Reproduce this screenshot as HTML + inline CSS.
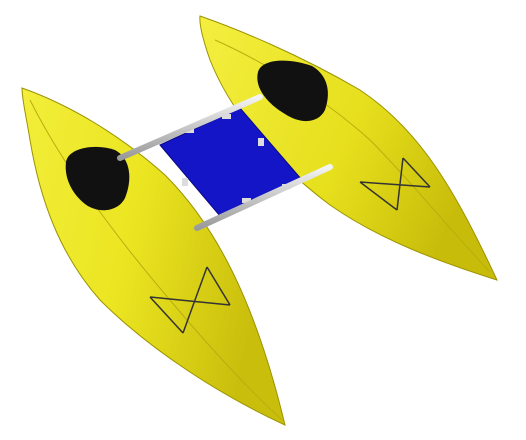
<!DOCTYPE html>
<html><head><meta charset="utf-8"><style>
html,body{margin:0;padding:0;background:#fff;width:526px;height:440px;overflow:hidden}
</style></head><body>
<svg width="526" height="440" viewBox="0 0 526 440" xmlns="http://www.w3.org/2000/svg">
<defs>
<linearGradient id="hullL" x1="0" y1="0" x2="1" y2="0.3">
<stop offset="0" stop-color="#f2ee3a"/><stop offset="0.5" stop-color="#ebe521"/><stop offset="1" stop-color="#c9be0c"/></linearGradient>
<linearGradient id="hullR" x1="0" y1="0" x2="1" y2="0.4">
<stop offset="0" stop-color="#f4ef40"/><stop offset="0.6" stop-color="#e6df1c"/><stop offset="1" stop-color="#c8bc0a"/></linearGradient>
<linearGradient id="bar" x1="0" y1="0" x2="0" y2="1">
<stop offset="0" stop-color="#f4f4f4"/><stop offset="1" stop-color="#9a9a9a"/></linearGradient>
</defs>
<rect width="526" height="440" fill="#fff"/>
<g>
<path d="M200,16 C240,30 300,55 360,90 C420,130 455,190 497,280 C440,262 380,240 330,205 C270,160 230,110 210,60 C203,40 199,25 200,16 Z" fill="url(#hullR)" stroke="#9d9300" stroke-width="1"/>
<path d="M215,40 C260,60 320,95 370,140 C410,180 450,230 490,272" fill="none" stroke="#b9ae10" stroke-width="1"/>
<path d="M258,72 C262,58 290,58 312,66 C326,74 332,90 325,110 C318,124 300,124 285,114 C268,104 254,88 258,72 Z" fill="#111"/>
<path d="M360,182 L430,187 M403,158 L397,210 M360,182 L397,210 M403,158 L430,187" stroke="#333" stroke-width="1.5" fill="none"/>
</g>
<g>
<path d="M22,88 C70,105 120,135 165,175 C215,225 255,300 285,425 C220,395 150,350 100,300 C60,255 40,200 30,140 C26,115 22,100 22,88 Z" fill="url(#hullL)" stroke="#9d9300" stroke-width="1"/>
<path d="M30,100 C60,160 110,230 170,300 C220,360 260,400 282,420" fill="none" stroke="#b9ae10" stroke-width="1"/>
<path d="M66,162 C68,148 95,143 115,150 C130,158 133,178 125,198 C118,212 98,214 85,204 C72,194 64,178 66,162 Z" fill="#111"/>
<path d="M150,297 L230,305 M207,267 L183,333 M150,297 L183,333 M207,267 L230,305" stroke="#333" stroke-width="1.5" fill="none"/>
</g>
<polygon points="160,145 240,108 302,180 220,216" fill="#1515c8" stroke="#0a0a80" stroke-width="1"/>
<g fill="#dcdcdc">
<rect x="185" y="128" width="9" height="5"/><rect x="222" y="114" width="9" height="5"/>
<rect x="182" y="178" width="6" height="8"/><rect x="258" y="138" width="6" height="8"/>
<rect x="242" y="198" width="9" height="5"/><rect x="282" y="184" width="9" height="5"/>
</g>
<g>
<path d="M120,158 L260,97" stroke="url(#bar)" stroke-width="6" stroke-linecap="round"/>
<path d="M197,228 L330,167" stroke="url(#bar)" stroke-width="6" stroke-linecap="round"/>
</g>
</svg>
</body></html>
